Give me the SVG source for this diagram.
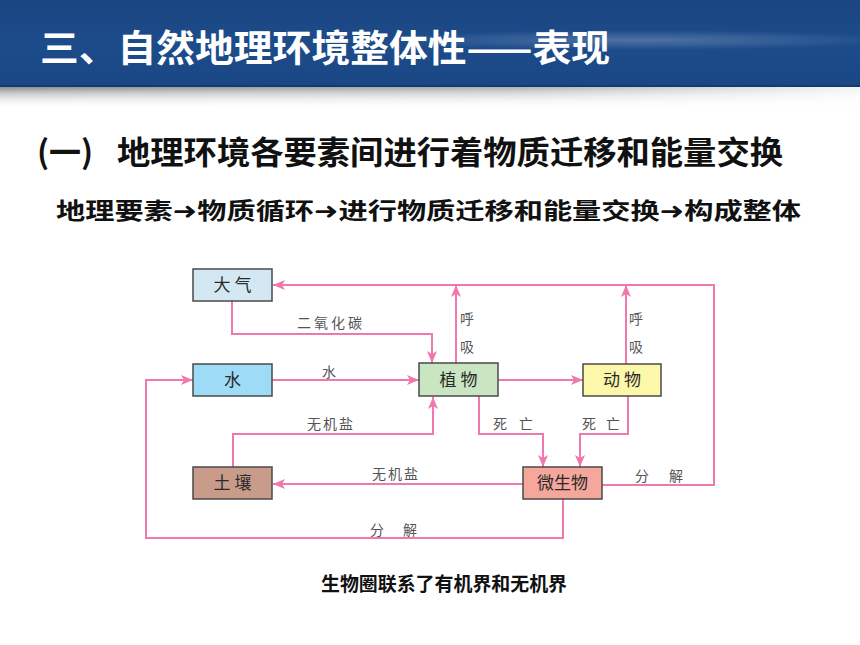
<svg xmlns="http://www.w3.org/2000/svg" width="860" height="645" viewBox="0 0 860 645">
<defs>
<linearGradient id="hdr" x1="0" y1="0" x2="0" y2="1">
<stop offset="0" stop-color="#1a4580"/>
<stop offset="0.5" stop-color="#1d4c8b"/>
<stop offset="1" stop-color="#1a4784"/>
</linearGradient>
<linearGradient id="shd" x1="0" y1="0" x2="0" y2="1">
<stop offset="0" stop-color="#7a7a7a" stop-opacity="0.85"/>
<stop offset="0.35" stop-color="#b5b5b5" stop-opacity="0.6"/>
<stop offset="1" stop-color="#ffffff" stop-opacity="0"/>
</linearGradient>
<linearGradient id="shdx" x1="0" y1="0" x2="1" y2="0">
<stop offset="0" stop-color="#fff" stop-opacity="0"/>
<stop offset="0.6" stop-color="#fff" stop-opacity="0.3"/>
<stop offset="1" stop-color="#fff" stop-opacity="0.9"/>
</linearGradient>
<radialGradient id="streak" cx="0.5" cy="0.5" r="0.5">
<stop offset="0" stop-color="#ffffff" stop-opacity="0.22"/>
<stop offset="1" stop-color="#ffffff" stop-opacity="0"/>
</radialGradient>
<marker id="ah" markerUnits="userSpaceOnUse" markerWidth="12" markerHeight="10" refX="12" refY="5" orient="auto">
<path d="M0,0 L12,5 L0,10 L3,5 z" fill="#ef78ad"/>
</marker>
</defs>
<style>
.ttl{font-family:"Noto Sans CJK SC","Noto Sans",sans-serif;font-weight:bold;fill:#ffffff}
.sub{font-family:"Noto Sans CJK SC","Noto Sans",sans-serif;font-weight:bold;fill:#111}
.sub2{font-family:"Noto Sans CJK SC","DejaVu Sans",sans-serif;font-weight:bold;fill:#111}
.box{stroke:#4a4a4a;stroke-width:1.5}
.bt{font-family:"Noto Sans CJK SC","Noto Sans",sans-serif;font-size:17px;fill:#2a2a2a;text-anchor:middle}
.lb{font-family:"Noto Sans CJK SC","Noto Sans",sans-serif;font-size:14px;fill:#555}
.ln{fill:none;stroke:#ef78ad;stroke-width:2}
.cap{font-family:"Noto Sans CJK SC","Noto Sans",sans-serif;font-weight:bold;font-size:19px;fill:#111}
</style>
<rect x="0" y="0" width="860" height="645" fill="#ffffff"/>
<g id="header">
<rect x="0" y="87" width="860" height="22" fill="url(#shd)"/>
<rect x="0" y="87" width="860" height="22" fill="url(#shdx)"/>
<rect x="0" y="0" width="860" height="87" fill="url(#hdr)"/>
<ellipse cx="640" cy="40" rx="260" ry="10" fill="url(#streak)"/>
<rect x="0" y="85" width="860" height="2" fill="#163a6c"/>
<text class="ttl" x="40" y="62" font-size="37" textLength="570" lengthAdjust="spacingAndGlyphs">三、自然地理环境整体性——表现</text>
</g>
<g id="subtitle">
<text class="sub" x="37" y="164" font-size="32">(一)</text>
<text class="sub" x="117" y="164" font-size="32" textLength="666" lengthAdjust="spacingAndGlyphs">地理环境各要素间进行着物质迁移和能量交换</text>
<text class="sub2" x="56" y="219" font-size="23" textLength="745" lengthAdjust="spacingAndGlyphs">地理要素➜物质循环➜进行物质迁移和能量交换➜构成整体</text>
</g>
<g id="connectors">
<path class="ln" d="M602,485 H714 V285 H273" marker-end="url(#ah)"/>
<path class="ln" d="M456,363 V285" marker-end="url(#ah)"/>
<path class="ln" d="M626,364 V285" marker-end="url(#ah)"/>
<path class="ln" d="M232,301 V334 H432 V363" marker-end="url(#ah)"/>
<path class="ln" d="M272,380 H419" marker-end="url(#ah)"/>
<path class="ln" d="M498,380 H583" marker-end="url(#ah)"/>
<path class="ln" d="M233,467 V434 H433 V397" marker-end="url(#ah)"/>
<path class="ln" d="M523,484 H273" marker-end="url(#ah)"/>
<path class="ln" d="M479,396 V434 H543 V467" marker-end="url(#ah)"/>
<path class="ln" d="M628,396 V434 H580 V467" marker-end="url(#ah)"/>
<path class="ln" d="M563,499 V538 H146 V380 H193" marker-end="url(#ah)"/>
<text class="lb" x="297" y="328" textLength="65">二氧化碳</text>
<text class="lb" x="322" y="377">水</text>
<text class="lb" x="460" y="324">呼</text>
<text class="lb" x="460" y="352">吸</text>
<text class="lb" x="629" y="324">呼</text>
<text class="lb" x="629" y="352">吸</text>
<text class="lb" x="307" y="429" textLength="46">无机盐</text>
<text class="lb" x="372" y="479" textLength="46">无机盐</text>
<text class="lb" x="493" y="429" textLength="40">死 亡</text>
<text class="lb" x="582" y="429" textLength="38">死 亡</text>
<text class="lb" x="635" y="481" textLength="48">分 解</text>
<text class="lb" x="370" y="535" textLength="47">分 解</text>
</g>
<g id="n-daqi"><rect class="box" x="193" y="269" width="79" height="32" fill="#d4e8f4"/><text class="bt" x="232.5" y="291">大 气</text></g>
<g id="n-shui"><rect class="box" x="193" y="364" width="79" height="32" fill="#9ddbf7"/><text class="bt" x="232.5" y="386">水</text></g>
<g id="n-zhiwu"><rect class="box" x="419" y="363" width="79" height="33" fill="#c9e5c1"/><text class="bt" x="458.5" y="386">植 物</text></g>
<g id="n-dongwu"><rect class="box" x="583" y="364" width="78" height="32" fill="#fdf7aa"/><text class="bt" x="622" y="386">动 物</text></g>
<g id="n-turang"><rect class="box" x="193" y="467" width="79" height="32" fill="#c89b8b"/><text class="bt" x="232.5" y="489">土 壤</text></g>
<g id="n-weishengwu"><rect class="box" x="523" y="467" width="79" height="32" fill="#f4a79a"/><text class="bt" x="562.5" y="489">微生物</text></g>
<g id="caption">
<text class="cap" x="321" y="591" textLength="246" lengthAdjust="spacingAndGlyphs">生物圈联系了有机界和无机界</text>
</g>
</svg>
